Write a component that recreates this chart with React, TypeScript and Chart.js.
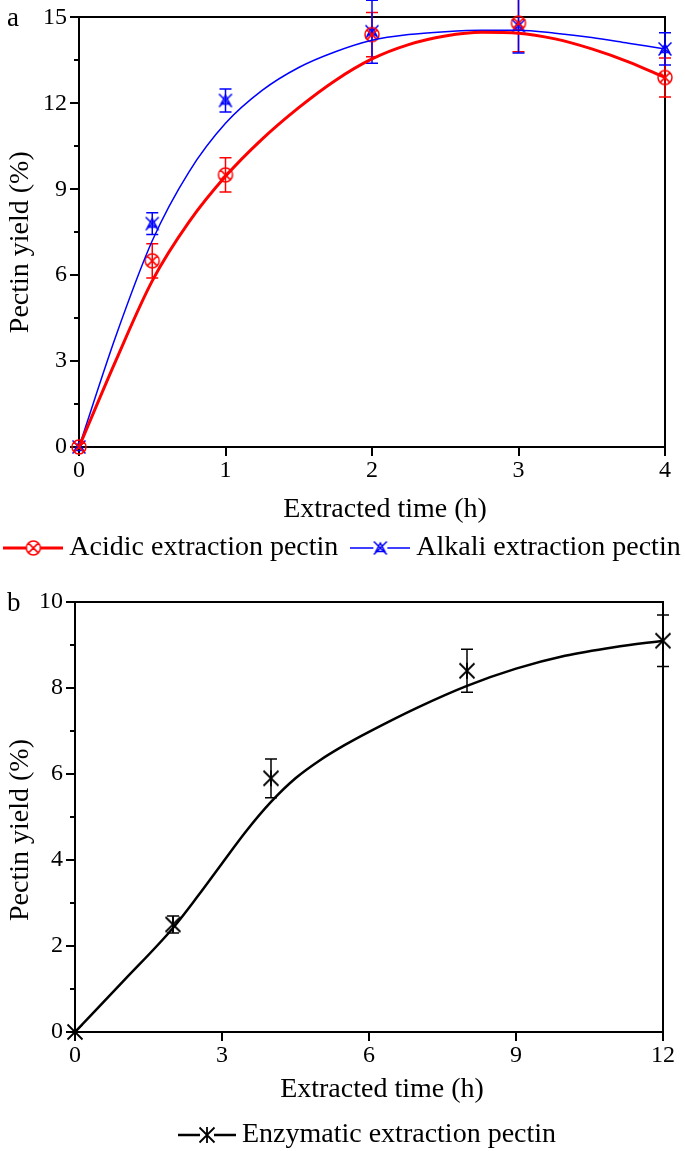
import React, { useEffect, useRef } from 'react';
import { Chart, registerables } from 'chart.js';

Chart.register(...registerables);

const SERIF = '"Liberation Serif", "Times New Roman", Times, serif';

// ---------- Panel a ----------
const timeA = [0, 0.5, 1, 2, 3, 4];
const acidicYield = [0, 6.5, 9.5, 14.4, 14.8, 12.9];
const acidicErr = [0, 0.6, 0.6, 0.77, 1.0, 0.68];
const alkaliYield = [0, 7.8, 12.1, 14.5, 14.7, 13.9];
const alkaliErr = [0, 0.38, 0.4, 1.1, 0.94, 0.56];

const fitTimeA = [0, 0.25, 0.5, 0.75, 1, 1.25, 1.5, 1.75, 2, 2.25, 2.5, 2.75, 3, 3.25, 3.5, 3.75, 4];
const acidicFit = [0, 3.0, 5.8, 7.85, 9.45, 10.75, 11.85, 12.8, 13.55, 14.05, 14.35, 14.48, 14.45, 14.25, 13.9, 13.45, 12.9];
const alkaliFit = [0, 3.85, 7.2, 9.6, 11.3, 12.45, 13.25, 13.8, 14.2, 14.4, 14.5, 14.55, 14.55, 14.45, 14.3, 14.1, 13.9];

const xTicksA = [0, 1, 2, 3, 4];
const yTicksA = [0, 3, 6, 9, 12, 15];
const yMinorA = [1.5, 4.5, 7.5, 10.5, 13.5];

// ---------- Panel b ----------
const timeB = [0, 2, 4, 8, 12];
const enzymaticYield = [0, 2.5, 5.9, 8.4, 9.1];
const enzymaticErr = [0, 0.2, 0.45, 0.5, 0.6];

const fitTimeB = [0, 1, 2, 2.5, 3, 3.5, 4, 4.5, 5, 5.5, 6, 7, 8, 9, 10, 11, 12];
const enzymaticFit = [0, 1.2, 2.42, 3.15, 3.92, 4.68, 5.35, 5.9, 6.32, 6.67, 6.98, 7.55, 8.05, 8.45, 8.75, 8.95, 9.1];

const xTicksB = [0, 3, 6, 9, 12];
const yTicksB = [0, 2, 4, 6, 8, 10];
const yMinorB = [1, 3, 5, 7, 9];

const X_TITLE = 'Extracted time (h)';
const Y_TITLE = 'Pectin yield (%)';

const RED = '#ff0000';
const BLUE = '#0000ff';
const BLACK = '#000000';

type Kind = 'circleX' | 'xTri' | 'asterisk';

function drawGlyph(g: CanvasRenderingContext2D, kind: Kind, color: string, cx: number, cy: number) {
  g.strokeStyle = color;
  g.lineWidth = 1.5;
  g.beginPath();
  if (kind === 'circleX') {
    g.arc(cx, cy, 7, 0, Math.PI * 2);
    const d = 4.9;
    g.moveTo(cx - d, cy - d); g.lineTo(cx + d, cy + d);
    g.moveTo(cx + d, cy - d); g.lineTo(cx - d, cy + d);
  } else if (kind === 'xTri') {
    const d = 6.5;
    g.moveTo(cx - d, cy - d); g.lineTo(cx + d, cy + d);
    g.moveTo(cx + d, cy - d); g.lineTo(cx - d, cy + d);
    g.moveTo(cx, cy - 5); g.lineTo(cx + 4.5, cy + 3.5); g.lineTo(cx - 4.5, cy + 3.5); g.closePath();
  } else {
    g.lineWidth = 1.8;
    const d = 7.5;
    g.moveTo(cx - d, cy - d); g.lineTo(cx + d, cy + d);
    g.moveTo(cx + d, cy - d); g.lineTo(cx - d, cy + d);
    g.moveTo(cx, cy - 8); g.lineTo(cx, cy + 8);
  }
  g.stroke();
}

function pointImage(kind: Kind, color: string) {
  const c = document.createElement('canvas');
  c.width = 24; c.height = 24;
  const g = c.getContext('2d')!;
  drawGlyph(g, kind, color, 12, 12);
  return c;
}

function legendImage(kind: Kind, color: string, lw: number, w: number) {
  const c = document.createElement('canvas');
  c.width = w; c.height = 24;
  const g = c.getContext('2d')!;
  const cx = w / 2, cy = 12;
  g.strokeStyle = color;
  g.lineWidth = lw;
  g.beginPath();
  g.moveTo(0, cy); g.lineTo(cx - 7, cy);
  g.moveTo(cx + 7, cy); g.lineTo(w, cy);
  g.stroke();
  drawGlyph(g, kind, color, cx, cy);
  return c;
}

const errorBarPlugin = {
  id: 'errorBars',
  beforeDatasetsDraw(chart: any) {
    const ctx = chart.ctx;
    chart.data.datasets.forEach((ds: any, i: number) => {
      const errs = ds.errors;
      if (!errs) return;
      const meta = chart.getDatasetMeta(i);
      const ys = chart.scales[meta.yAxisID];
      ctx.save();
      ctx.strokeStyle = ds.errorColor;
      ctx.lineWidth = 1.5;
      meta.data.forEach((pt: any, j: number) => {
        const e = errs[j];
        if (!e) return;
        const v = ds.data[j].y;
        const top = ys.getPixelForValue(v + e);
        const bot = ys.getPixelForValue(v - e);
        const x = pt.x;
        ctx.beginPath();
        ctx.moveTo(x, top); ctx.lineTo(x, bot);
        ctx.moveTo(x - 6, top); ctx.lineTo(x + 6, top);
        ctx.moveTo(x - 6, bot); ctx.lineTo(x + 6, bot);
        ctx.stroke();
      });
      ctx.restore();
    });
  },
};

const minorTickPlugin = {
  id: 'minorTicks',
  afterDraw(chart: any, _args: any, opts: any) {
    const vals: number[] = opts.values || [];
    const ys = chart.scales.y;
    const left = chart.chartArea.left;
    const ctx = chart.ctx;
    ctx.save();
    ctx.strokeStyle = BLACK;
    ctx.lineWidth = 2;
    vals.forEach((v) => {
      const y = Math.round(ys.getPixelForValue(v));
      ctx.beginPath();
      ctx.moveTo(left - 5, y); ctx.lineTo(left, y);
      ctx.stroke();
    });
    ctx.restore();
  },
};

// panel letter, axis titles and legend
const annotatePlugin = {
  id: 'annotate',
  afterDraw(chart: any, _args: any, opts: any) {
    const ctx = chart.ctx;
    const area = chart.chartArea;
    ctx.save();
    ctx.fillStyle = BLACK;
    ctx.font = `27px ${SERIF}`;
    ctx.textBaseline = 'alphabetic';
    ctx.textAlign = 'left';
    ctx.fillText(opts.label, 7, opts.labelY);
    ctx.font = `28px ${SERIF}`;
    ctx.textAlign = 'center';
    ctx.textBaseline = 'middle';
    ctx.fillText(opts.xTitle, (area.left + area.right) / 2 + opts.xTitleDx, opts.xTitleY);
    ctx.save();
    ctx.translate(opts.yTitleX, (area.top + area.bottom) / 2 + opts.yTitleDy);
    ctx.rotate(-Math.PI / 2);
    ctx.fillText(opts.yTitle, 0, 0);
    ctx.restore();
    ctx.textAlign = 'left';
    const items = opts.legend.map((it: any) => ({ ...it, tw: ctx.measureText(it.text).width }));
    const total = items.reduce((s: number, it: any, i: number) => s + it.img.width + opts.iconGap + it.tw + (i ? opts.itemGap : 0), 0);
    let x = opts.legendCx - total / 2;
    items.forEach((it: any, i: number) => {
      if (i) x += opts.itemGap;
      ctx.drawImage(it.img, x, opts.legendY - it.img.height / 2);
      x += it.img.width + opts.iconGap;
      ctx.fillText(it.text, x, opts.legendY);
      x += it.tw;
    });
    ctx.restore();
  },
};

interface PanelSpec {
  datasets: any[];
  xTicks: number[];
  yTicks: number[];
  yMinor: number[];
  topH: number;
  leftW: number;
  rightW: number;
  xAxisH: number;
  annotate: any;
}

function axisTicksCb(vals: number[]) {
  return (scale: any) => {
    scale.ticks = vals.map((v) => ({ value: v }));
  };
}

function buildConfig(p: PanelSpec): any {
  const tickFont = { family: SERIF, size: 24 };
  const xMin = p.xTicks[0], xMax = p.xTicks[p.xTicks.length - 1];
  const yMin = p.yTicks[0], yMax = p.yTicks[p.yTicks.length - 1];
  return {
    type: 'scatter',
    data: { datasets: p.datasets },
    plugins: [errorBarPlugin, minorTickPlugin, annotatePlugin],
    options: {
      responsive: false,
      animation: false,
      events: [],
      layout: { padding: 0 },
      scales: {
        x: {
          type: 'linear', position: 'bottom', min: xMin, max: xMax,
          afterBuildTicks: axisTicksCb(p.xTicks),
          ticks: { font: tickFont, color: BLACK, padding: 0, maxRotation: 0, autoSkip: false },
          grid: { drawOnChartArea: false, color: BLACK, lineWidth: 2, tickLength: 9, tickWidth: 2 },
          border: { color: BLACK, width: 2 },
          afterFit: (s: any) => { s.height = p.xAxisH; },
        },
        x2: {
          type: 'linear', position: 'top', min: xMin, max: xMax,
          ticks: { display: false },
          grid: { display: false },
          border: { color: BLACK, width: 2 },
          afterFit: (s: any) => { s.height = p.topH; },
        },
        y: {
          type: 'linear', position: 'left', min: yMin, max: yMax,
          afterBuildTicks: axisTicksCb(p.yTicks),
          ticks: { font: tickFont, color: BLACK, padding: 3, autoSkip: false },
          grid: { drawOnChartArea: false, color: BLACK, lineWidth: 2, tickLength: 9, tickWidth: 2 },
          border: { color: BLACK, width: 2 },
          afterFit: (s: any) => { s.width = p.leftW; },
        },
        y2: {
          type: 'linear', position: 'right', min: yMin, max: yMax,
          ticks: { display: false },
          grid: { display: false },
          border: { color: BLACK, width: 2 },
          afterFit: (s: any) => { s.width = p.rightW; },
        },
      },
      plugins: {
        tooltip: { enabled: false },
        legend: { display: false },
        minorTicks: { values: p.yMinor },
        annotate: p.annotate,
      },
    },
  };
}

function toXY(xs: number[], ys: number[]) {
  return xs.map((x, i) => ({ x, y: ys[i] }));
}

function configA() {
  const datasets = [
    {
      label: 'Acidic fit', data: toXY(fitTimeA, acidicFit), showLine: true, pointRadius: 0,
      borderColor: RED, borderWidth: 3, cubicInterpolationMode: 'monotone', clip: false,
    },
    {
      label: 'Alkali fit', data: toXY(fitTimeA, alkaliFit), showLine: true, pointRadius: 0,
      borderColor: BLUE, borderWidth: 1.5, cubicInterpolationMode: 'monotone', clip: false,
    },
    {
      label: 'Acidic extraction pectin', data: toXY(timeA, acidicYield), showLine: false,
      pointStyle: pointImage('circleX', RED), pointRadius: 8, clip: false,
      errors: acidicErr, errorColor: RED,
    },
    {
      label: 'Alkali extraction pectin', data: toXY(timeA, alkaliYield), showLine: false,
      pointStyle: pointImage('xTri', BLUE), pointRadius: 8, clip: false,
      errors: alkaliErr, errorColor: BLUE,
    },
  ];
  return buildConfig({
    datasets, xTicks: xTicksA, yTicks: yTicksA, yMinor: yMinorA,
    topH: 17, leftW: 79, rightW: 20, xAxisH: 128,
    annotate: {
      label: 'a', labelY: 26,
      xTitle: X_TITLE, xTitleDx: 13, xTitleY: 510,
      yTitle: Y_TITLE, yTitleX: 21, yTitleDy: 10,
      legend: [
        { text: 'Acidic extraction pectin', img: legendImage('circleX', RED, 3, 60) },
        { text: 'Alkali extraction pectin', img: legendImage('xTri', BLUE, 1.5, 60) },
      ],
      legendCx: 342, legendY: 548, iconGap: 6, itemGap: 12,
    },
  });
}

function configB() {
  const datasets = [
    {
      label: 'Enzymatic fit', data: toXY(fitTimeB, enzymaticFit), showLine: true, pointRadius: 0,
      borderColor: BLACK, borderWidth: 2.5, cubicInterpolationMode: 'monotone', clip: false,
    },
    {
      label: 'Enzymatic extraction pectin', data: toXY(timeB, enzymaticYield), showLine: false,
      pointStyle: pointImage('asterisk', BLACK), pointRadius: 8, clip: false,
      errors: enzymaticErr, errorColor: BLACK,
    },
  ];
  return buildConfig({
    datasets, xTicks: xTicksB, yTicks: yTicksB, yMinor: yMinorB,
    topH: 27, leftW: 75, rightW: 22, xAxisH: 119,
    annotate: {
      label: 'b', labelY: 36,
      xTitle: X_TITLE, xTitleDx: 13, xTitleY: 515,
      yTitle: Y_TITLE, yTitleX: 21, yTitleDy: 13,
      legend: [
        { text: 'Enzymatic extraction pectin', img: legendImage('asterisk', BLACK, 2.5, 58) },
      ],
      legendCx: 367, legendY: 560, iconGap: 6, itemGap: 12,
    },
  });
}

export default function App() {
  const refA = useRef<HTMLCanvasElement>(null);
  const refB = useRef<HTMLCanvasElement>(null);
  useEffect(() => {
    const a = new Chart(refA.current!, configA());
    const b = new Chart(refB.current!, configB());
    return () => {
      a.destroy();
      b.destroy();
    };
  }, []);
  return (
    <div style={{ position: 'absolute', left: 0, top: 0, width: 685, height: 1151, overflow: 'hidden', background: '#fff' }}>
      <canvas ref={refA} width={685} height={575} style={{ position: 'absolute', left: 0, top: 0 }} />
      <canvas ref={refB} width={685} height={576} style={{ position: 'absolute', left: 0, top: 575 }} />
    </div>
  );
}
